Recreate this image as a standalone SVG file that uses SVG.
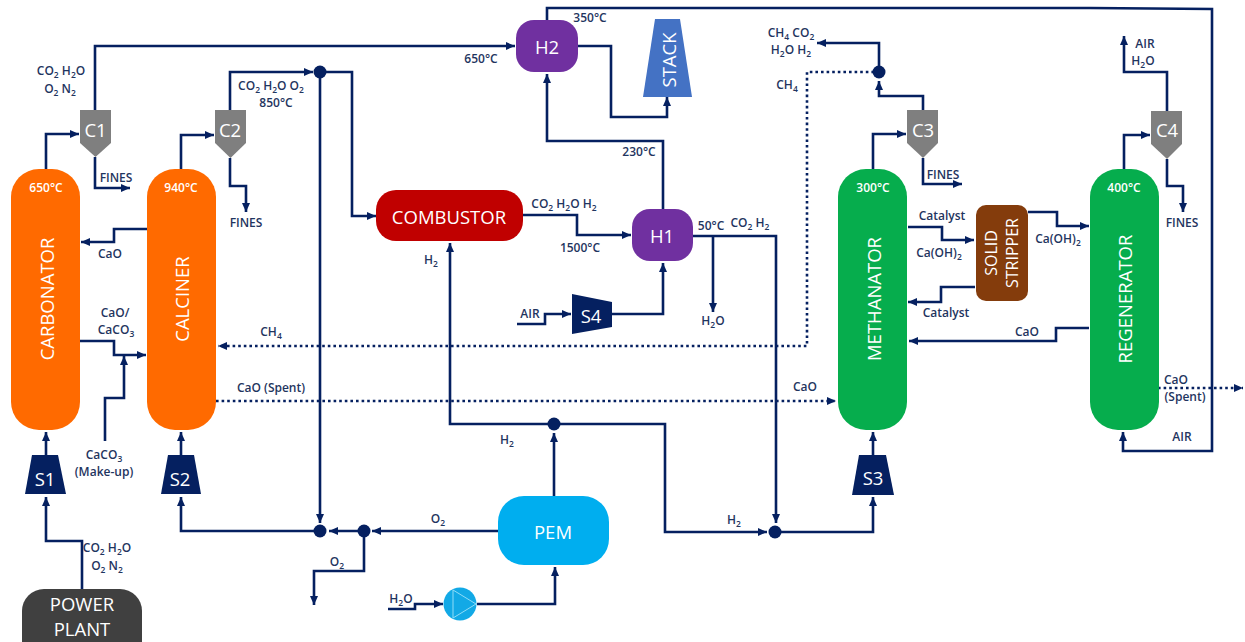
<svg xmlns="http://www.w3.org/2000/svg" width="1245" height="642" viewBox="0 0 1245 642">
<style>
text{font-family:"Open Sans","Noto Sans","Liberation Sans",sans-serif}
.l{font-size:12px;font-weight:600;fill:#1f3560;text-anchor:middle}
.s{font-size:8.500px;baseline-shift:-2.5px}
.n{fill:#fff;text-anchor:middle;dominant-baseline:central;font-size:18.500px}
.ss{font-size:16px}
.t{font-size:12px;font-weight:600;fill:#fff;text-anchor:middle}
.c{fill:none;stroke:#052060;stroke-width:2.6;stroke-linejoin:miter}
.a{marker-end:url(#ah)}
.d{stroke-dasharray:2.6 3}
.j{fill:#052060}
.cy{fill:#7f7f7f}
.or{fill:#ff6a00}
.gr{fill:#06ad4d}
.pu{fill:#7030a0}
.sp{fill:#052060}
</style>
<defs>
<marker id="ah" markerUnits="userSpaceOnUse" markerWidth="10" markerHeight="10" refX="9" refY="5" orient="auto"><path d="M0 1L9 5L0 9z" fill="#052060"/></marker>
</defs>
<rect width="1245" height="642" fill="#fff"/>
<g id="connectors">
<path class="c a" d="M46 169V134H79"/>
<path class="c a" d="M95 110V46H515"/>
<path class="c a" d="M95 157V188H130"/>
<path class="c a" d="M181 169V135H214"/>
<path class="c a" d="M230 110V72H313"/>
<path class="c a" d="M320 72H352V216H376"/>
<path class="c a" d="M230 158V186H246V212"/>
<path class="c a" d="M320 78V523"/>
<path class="c a" d="M147 229H114V242H81"/>
<path class="c a" d="M80 341H114V355H146"/>
<path class="c a" d="M105 441V398H124V356"/>
<path class="c a" d="M46 455V432"/>
<path class="c a" d="M82 589V541H46V497"/>
<path class="c a" d="M181 455V432"/>
<path class="c a" d="M320 531H181V497"/>
<path class="c a" d="M498 531H372"/>
<path class="c a" d="M364 531H329"/>
<path class="c a" d="M364 531V571H314V605"/>
<path class="c a" d="M388 609H415V604H443"/>
<path class="c a" d="M477 604H555V567"/>
<path class="c a" d="M554 496V433"/>
<path class="c a" d="M554 424H450V243"/>
<path class="c a" d="M554 424H665V532H767"/>
<path class="c a" d="M693 236H776V523"/>
<path class="c a" d="M713 236V312"/>
<path class="c a" d="M775 532H873V497"/>
<path class="c a" d="M873 455V432"/>
<path class="c a" d="M523 215H577V235H631"/>
<path class="c a" d="M663 209V141H547V74"/>
<path class="c a" d="M547 20V8H1090L1212 9V451H1123V432"/>
<path class="c a" d="M578 46H611V117H667V97"/>
<path class="c a" d="M517 324H545V314H571"/>
<path class="c a" d="M612 314H663V263"/>
<path class="c d a" d="M874 72H807V346H218"/>
<path class="c d a" d="M216 401H836"/>
<path class="c d a" d="M1158 388H1243"/>
<path class="c a" d="M873 169V134H906"/>
<path class="c a" d="M923 110V96H879V81"/>
<path class="c a" d="M879 66V43H817"/>
<path class="c a" d="M923 158V184H962"/>
<path class="c a" d="M908 227H942V240H974"/>
<path class="c a" d="M1028 212H1057V226H1089"/>
<path class="c a" d="M975 287H941V302H908"/>
<path class="c a" d="M1089 328H1056V341H909"/>
<path class="c a" d="M1124 169V135H1150"/>
<path class="c a" d="M1167 111V72H1124V36"/>
<path class="c a" d="M1167 159V186H1183V212"/>
</g>
<g id="junctions">
<circle class="j" cx="320" cy="72" r="6.500"/>
<circle class="j" cx="320" cy="531" r="6.500"/>
<circle class="j" cx="364" cy="531" r="6.500"/>
<circle class="j" cx="554" cy="424" r="6.500"/>
<circle class="j" cx="775" cy="532" r="6.500"/>
<circle class="j" cx="879" cy="72" r="6.500"/>
</g>
<g id="carbonator"><rect class="or" x="11" y="169" width="69" height="261" rx="28"/><text class="t" x="46" y="192">650°C</text><text class="n" transform="translate(46 299) rotate(-90)">CARBONATOR</text></g>
<g id="calciner"><rect class="or" x="147" y="169" width="69" height="261" rx="28"/><text class="t" x="181" y="192">940°C</text><text class="n" transform="translate(181 299) rotate(-90)">CALCINER</text></g>
<g id="methanator"><rect class="gr" x="838" y="169" width="69" height="261" rx="28"/><text class="t" x="873" y="192">300°C</text><text class="n" transform="translate(873 299) rotate(-90)">METHANATOR</text></g>
<g id="regenerator"><rect class="gr" x="1090" y="169" width="69" height="261" rx="28"/><text class="t" x="1124" y="192">400°C</text><text class="n" transform="translate(1124 299) rotate(-90)">REGENERATOR</text></g>
<g id="c1"><path class="cy" d="M80 110H111V143L95.500 157L80 143z"/><text class="n" x="95.500" y="129">C1</text></g>
<g id="c2"><path class="cy" d="M215 110H246V143L230.500 158L215 143z"/><text class="n" x="230" y="129">C2</text></g>
<g id="c3"><path class="cy" d="M907 110H938V143L923 158L907 143z"/><text class="n" x="923" y="129">C3</text></g>
<g id="c4"><path class="cy" d="M1151 111H1182V144L1167 159L1151 144z"/><text class="n" x="1167" y="129">C4</text></g>
<g id="s1"><path class="sp" d="M32 455H58L66 494H25z"/><text class="n" x="45" y="478">S1</text></g>
<g id="s2"><path class="sp" d="M168 455H194L201 494H161z"/><text class="n" x="180" y="478">S2</text></g>
<g id="s3"><path class="sp" d="M859 455H886L894 495H852z"/><text class="n" x="873" y="477">S3</text></g>
<g id="s4"><path class="sp" d="M572 294L612 302V327L572 334z"/><text class="n" x="591" y="315">S4</text></g>
<g id="combustor"><rect x="376" y="190" width="147" height="51" rx="20" fill="#c00000"/><text class="n" x="449" y="216">COMBUSTOR</text></g>
<g id="h1"><rect class="pu" x="632" y="209" width="61" height="52" rx="18"/><text class="n" x="662" y="235">H1</text></g>
<g id="h2"><rect class="pu" x="516" y="20" width="62" height="52" rx="18"/><text class="n" x="547" y="46">H2</text></g>
<g id="stack"><path d="M655 19H680L692 97H643z" fill="#4472c4"/><text class="n" transform="translate(668 60) rotate(-90)">STACK</text></g>
<g id="stripper"><rect x="976" y="205" width="52" height="96" rx="10" fill="#843c0c"/><text class="n ss" transform="translate(991 253) rotate(-90)">SOLID</text><text class="n ss" transform="translate(1012 253) rotate(-90)">STRIPPER</text></g>
<g id="pem"><rect x="498" y="496" width="111" height="69" rx="26" fill="#00aeef"/><text class="n" x="553" y="531">PEM</text></g>
<g id="pump"><circle cx="460" cy="604" r="16.500" fill="#12a9e6"/><path d="M453 590V618L476 604z" fill="none" stroke="#8fdcf7" stroke-width="1"/></g>
<g id="power-plant"><rect x="22" y="589" width="120" height="80" rx="22" fill="#404040"/><text class="n" x="82" y="603">POWER</text><text class="n" x="82" y="628">PLANT</text></g>
<g id="labels">
<text class="l" x="61" y="75">CO<tspan class="s">2</tspan> H<tspan class="s">2</tspan>O</text>
<text class="l" x="60" y="93">O<tspan class="s">2</tspan> N<tspan class="s">2</tspan></text>
<text class="l" x="116" y="182">FINES</text>
<text class="l" x="271" y="90">CO<tspan class="s">2</tspan> H<tspan class="s">2</tspan>O O<tspan class="s">2</tspan></text>
<text class="l" x="276" y="107">850°C</text>
<text class="l" x="246" y="227">FINES</text>
<text class="l" x="110" y="258">CaO</text>
<text class="l" x="115" y="317">CaO/</text>
<text class="l" x="116" y="334">CaCO<tspan class="s">3</tspan></text>
<text class="l" x="104" y="459">CaCO<tspan class="s">3</tspan></text>
<text class="l" x="104" y="476">(Make-up)</text>
<text class="l" x="107" y="552">CO<tspan class="s">2</tspan> H<tspan class="s">2</tspan>O</text>
<text class="l" x="107" y="570">O<tspan class="s">2</tspan> N<tspan class="s">2</tspan></text>
<text class="l" x="271" y="336">CH<tspan class="s">4</tspan></text>
<text class="l" x="271" y="392">CaO (Spent)</text>
<text class="l" x="337" y="566">O<tspan class="s">2</tspan></text>
<text class="l" x="401" y="603">H<tspan class="s">2</tspan>O</text>
<text class="l" x="438" y="523">O<tspan class="s">2</tspan></text>
<text class="l" x="431" y="264">H<tspan class="s">2</tspan></text>
<text class="l" x="507" y="444">H<tspan class="s">2</tspan></text>
<text class="l" x="481" y="63">650°C</text>
<text class="l" x="590" y="22">350°C</text>
<text class="l" x="639" y="156">230°C</text>
<text class="l" x="564" y="208">CO<tspan class="s">2</tspan> H<tspan class="s">2</tspan>O H<tspan class="s">2</tspan></text>
<text class="l" x="580" y="252">1500°C</text>
<text class="l" x="711" y="230">50°C</text>
<text class="l" x="750" y="227">CO<tspan class="s">2</tspan> H<tspan class="s">2</tspan></text>
<text class="l" x="530" y="318">AIR</text>
<text class="l" x="713" y="325">H<tspan class="s">2</tspan>O</text>
<text class="l" x="734" y="524">H<tspan class="s">2</tspan></text>
<text class="l" x="805" y="391">CaO</text>
<text class="l" x="791" y="37">CH<tspan class="s">4</tspan> CO<tspan class="s">2</tspan></text>
<text class="l" x="791" y="54">H<tspan class="s">2</tspan>O H<tspan class="s">2</tspan></text>
<text class="l" x="787" y="89">CH<tspan class="s">4</tspan></text>
<text class="l" x="943" y="179">FINES</text>
<text class="l" x="942" y="220">Catalyst</text>
<text class="l" x="939" y="257">Ca(OH)<tspan class="s">2</tspan></text>
<text class="l" x="946" y="317">Catalyst</text>
<text class="l" x="1058" y="243">Ca(OH)<tspan class="s">2</tspan></text>
<text class="l" x="1027" y="336">CaO</text>
<text class="l" x="1145" y="48">AIR</text>
<text class="l" x="1143" y="65">H<tspan class="s">2</tspan>O</text>
<text class="l" x="1182" y="227">FINES</text>
<text class="l" x="1176" y="384">CaO</text>
<text class="l" x="1185" y="401">(Spent)</text>
<text class="l" x="1182" y="441">AIR</text>
</g>
</svg>
